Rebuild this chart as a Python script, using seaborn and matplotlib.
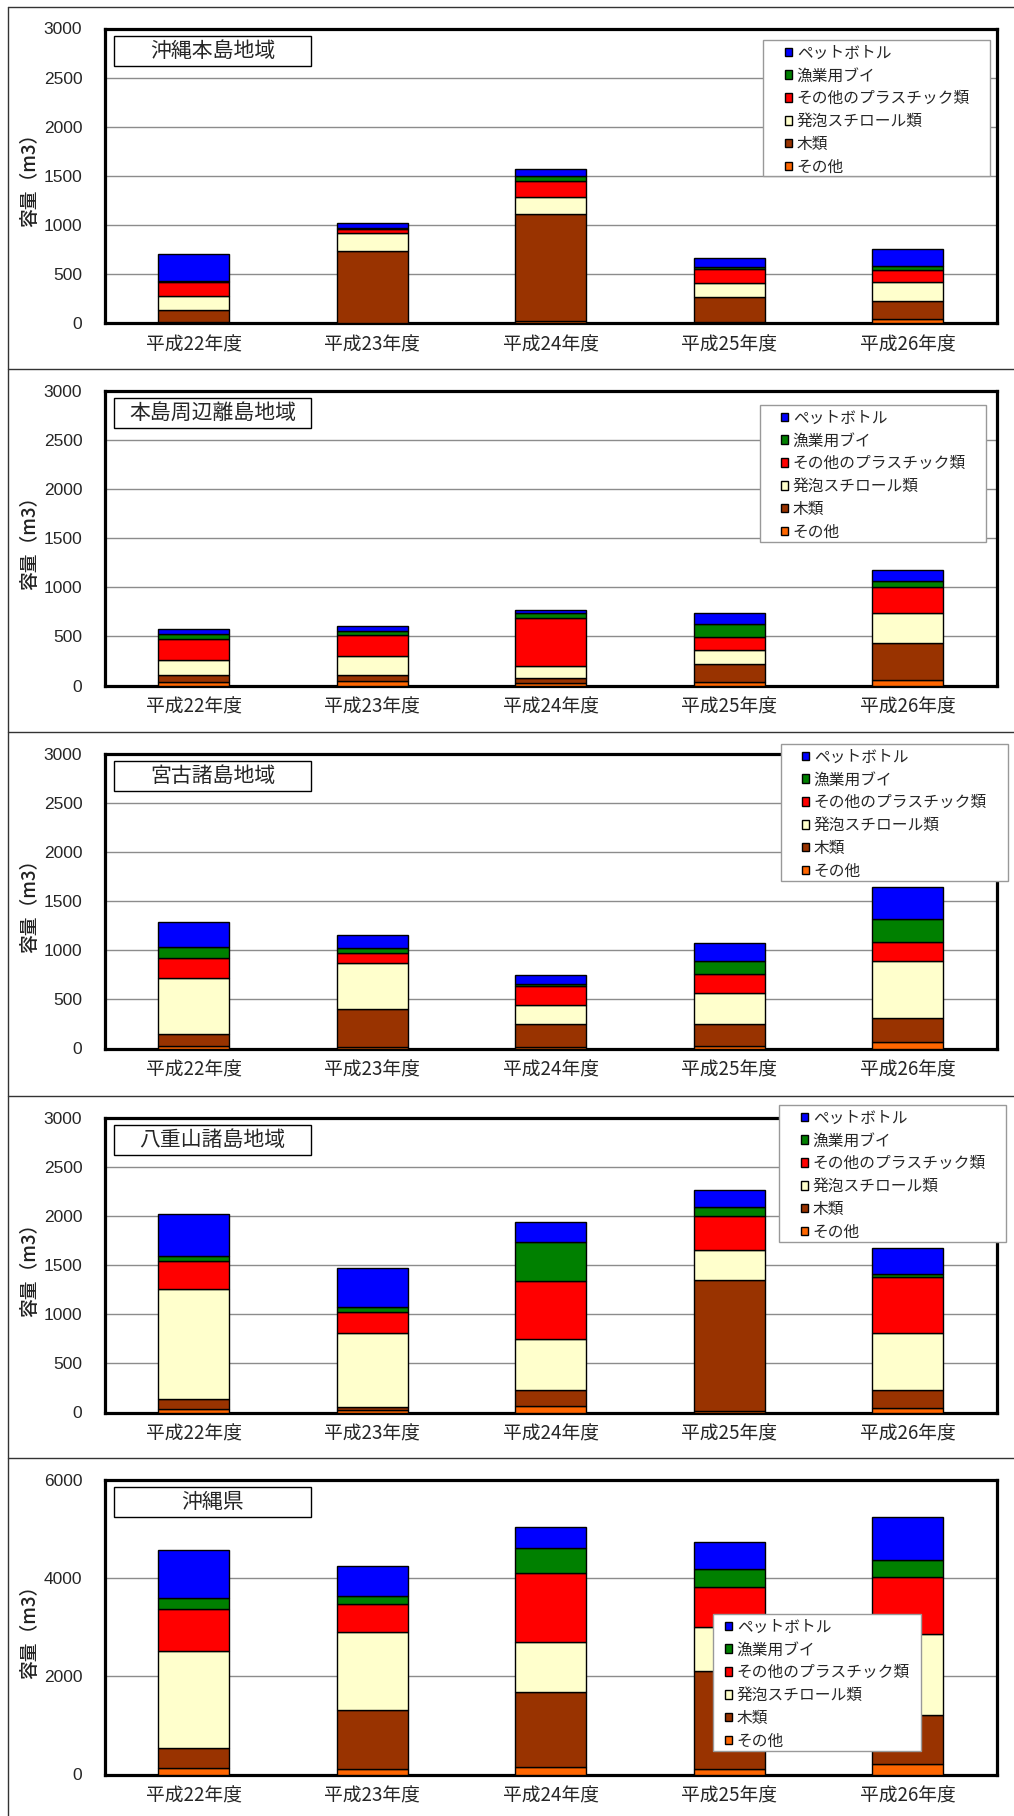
import matplotlib
matplotlib.use("Agg")
import matplotlib.pyplot as plt
from matplotlib.patches import Patch, Rectangle
from matplotlib.lines import Line2D
import seaborn as sns
import pandas as pd
import numpy as np

# ---------------- data ----------------
years = ["平成22年度", "平成23年度", "平成24年度", "平成25年度", "平成26年度"]
# stacking order: bottom -> top
categories = ["その他", "木類", "発泡スチロール類", "その他のプラスチック類", "漁業用ブイ", "ペットボトル"]
colors = ["#FF6600", "#993300", "#FFFFCC", "#FF0000", "#008000", "#0000FF"]

region_names = ["沖縄本島地域", "本島周辺離島地域", "宮古諸島地域", "八重山諸島地域", "沖縄県"]

honto_sonota = [15, 5, 20, 15, 37]
honto_moku = [120, 730, 1087, 250, 187]
honto_happo = [135, 185, 177, 146, 194]
honto_pura = [145, 40, 163, 143, 119]
honto_bui = [15, 10, 48, 17, 40]
honto_pet = [275, 50, 71, 91, 177]

ritou_sonota = [35, 45, 25, 40, 55]
ritou_moku = [77, 67, 53, 181, 383]
ritou_happo = [150, 184, 119, 139, 302]
ritou_pura = [207, 217, 486, 139, 262]
ritou_bui = [51, 41, 57, 123, 61]
ritou_pet = [51, 57, 34, 115, 109]

miyako_sonota = [30, 20, 20, 28, 68]
miyako_moku = [113, 381, 231, 223, 241]
miyako_happo = [571, 465, 194, 310, 585]
miyako_pura = [210, 102, 190, 193, 190]
miyako_bui = [112, 55, 21, 140, 234]
miyako_pet = [255, 132, 88, 183, 323]

yaeyama_sonota = [34, 25, 68, 15, 44]
yaeyama_moku = [102, 36, 157, 1335, 181]
yaeyama_happo = [1125, 744, 528, 304, 583]
yaeyama_pura = [287, 218, 584, 344, 576]
yaeyama_bui = [48, 54, 395, 99, 31]
yaeyama_pet = [426, 396, 211, 170, 262]

ken_sonota = [136, 122, 156, 115, 217]
ken_moku = [406, 1200, 1525, 1987, 990]
ken_happo = [1966, 1580, 1011, 901, 1661]
ken_pura = [868, 576, 1416, 814, 1146]
ken_bui = [217, 149, 516, 373, 359]
ken_pet = [983, 631, 413, 542, 868]

region_data = [
    [honto_sonota, honto_moku, honto_happo, honto_pura, honto_bui, honto_pet],
    [ritou_sonota, ritou_moku, ritou_happo, ritou_pura, ritou_bui, ritou_pet],
    [miyako_sonota, miyako_moku, miyako_happo, miyako_pura, miyako_bui, miyako_pet],
    [yaeyama_sonota, yaeyama_moku, yaeyama_happo, yaeyama_pura, yaeyama_bui, yaeyama_pet],
    [ken_sonota, ken_moku, ken_happo, ken_pura, ken_bui, ken_pet],
]
y_ticks_small = [0, 500, 1000, 1500, 2000, 2500, 3000]
y_ticks_large = [0, 2000, 4000, 6000]

# ---------------- style ----------------
sns.set_style("white")
plt.rcParams["font.family"] = ["Noto Sans CJK JP", "DejaVu Sans"]
CJK = ["Noto Sans CJK JP", "DejaVu Sans"]
NUM = ["Liberation Sans", "DejaVu Sans"]

W, H = 1014, 1816
fig = plt.figure(figsize=(W / 100, H / 100), dpi=100)


def fx(x):
    return x / W


def fy(y):
    return 1 - y / H


panel_tops = [6.5, 369, 732, 1096, 1458]
ax_left, ax_right = 104.5, 997
ax_h = 294.5
# legend frame boxes (x0, y0, x1, y1) in pixels, and marker x
legend_boxes = [(763, 40, 990, 176), (760, 405, 986, 542), (781, 744, 1008, 881),
                (779, 1105, 1006, 1242), (713, 1614, 921, 1751)]
legend_marker_x = [785, 781, 802, 801, 725]

# panel separators
for pt in panel_tops:
    fig.add_artist(Line2D([fx(8), fx(1014)], [fy(pt), fy(pt)], color="#333333", lw=1.0,
                          transform=fig.transFigure))
fig.add_artist(Line2D([fx(8), fx(8)], [fy(panel_tops[0]), fy(H)], color="#333333", lw=1.0,
                      transform=fig.transFigure))

for i, (name, layers) in enumerate(zip(region_names, region_data)):
    top = panel_tops[i] + 22
    ax = fig.add_axes([fx(ax_left), fy(top + ax_h), (ax_right - ax_left) / W, ax_h / H])

    bottom = np.zeros(len(years))
    for cat, col, vals in zip(categories, colors, layers):
        df = pd.DataFrame({"year": years, "value": vals})
        sns.barplot(data=df, x="year", y="value", order=years, color=col, saturation=1,
                    width=0.4, edgecolor="black", linewidth=1.0, errorbar=None,
                    bottom=bottom.copy(), ax=ax, zorder=3)
        bottom = bottom + np.array(vals, dtype=float)

    ymax = 6000 if i == 4 else 3000
    ticks = y_ticks_large if i == 4 else y_ticks_small
    ax.set_ylim(0, ymax)
    ax.set_xlim(-0.5, len(years) - 0.5)
    ax.set_yticks(ticks)
    ax.set_yticklabels([str(t) for t in ticks], fontfamily=NUM, fontsize=12.5)
    ax.set_xticks(range(len(years)))
    ax.set_xticklabels(years, fontfamily=CJK, fontsize=13.5)
    ax.set_xticks([k + 0.5 for k in range(len(years) - 1)], minor=True)
    ax.tick_params(axis="x", which="major", length=0, pad=8)
    ax.tick_params(axis="x", which="minor", direction="in", length=3, width=1, color="#999999")
    ax.tick_params(axis="y", which="major", direction="in", length=3, width=2, color="black", pad=16)
    ax.set_xlabel("")
    ax.set_ylabel("")
    ax.yaxis.grid(True, color="#8c8c8c", lw=1.0)
    ax.xaxis.grid(False)
    ax.set_axisbelow(True)
    for sp in ax.spines.values():
        sp.set_visible(True)
        sp.set_color("black")
        sp.set_linewidth(2.3)

    # y label
    fig.text(fx(30), fy(top + ax_h / 2), "容量（m3）", rotation=90, ha="center", va="center",
             fontsize=13.5, fontfamily=CJK, fontweight="medium", color="#222222")

    # title box
    bx0, by0, bw, bh = 114, top + 7, 197, 30
    fig.add_artist(Rectangle((fx(bx0), fy(by0 + bh)), bw / W, bh / H, transform=fig.transFigure,
                             facecolor="white", edgecolor="black", lw=1.0, zorder=10))
    fig.text(fx(bx0 + bw / 2), fy(by0 + bh / 2), name, ha="center", va="center",
             fontsize=15, fontfamily=CJK, zorder=11)

    # legend frame
    lx0, ly0, lx1, ly1 = legend_boxes[i]
    fig.add_artist(Rectangle((fx(lx0), fy(ly1)), (lx1 - lx0) / W, (ly1 - ly0) / H,
                             transform=fig.transFigure, facecolor="white",
                             edgecolor="#999999", lw=1.0, zorder=12))
    # legend (top entry first)
    handles = [Patch(facecolor=c, edgecolor="black", linewidth=1.0)
               for c in colors[::-1]]
    leg = fig.legend(handles, categories[::-1], loc="upper left",
                     bbox_to_anchor=(fx(legend_marker_x[i]), fy(ly0 + 4.5)),
                     bbox_transform=fig.transFigure,
                     prop={"family": CJK, "size": 11.3}, frameon=False,
                     handlelength=0.45, handleheight=0.45,
                     handletextpad=0.3, labelspacing=0.37, borderpad=0, borderaxespad=0)
    leg.set_zorder(20)

fig.savefig("out.png", dpi=100)
